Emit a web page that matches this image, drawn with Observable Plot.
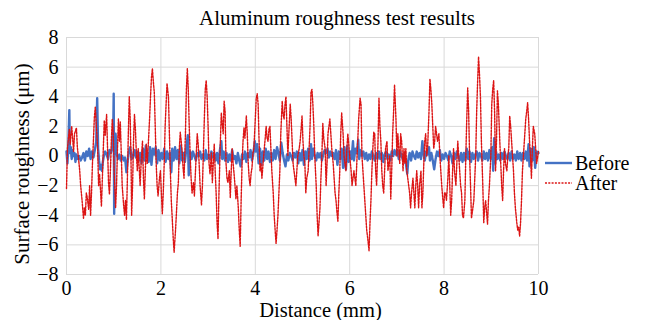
<!DOCTYPE html>
<html>
<head>
<meta charset="utf-8">
<script src="https://cdn.jsdelivr.net/npm/d3@7"></script>
<script src="https://cdn.jsdelivr.net/npm/@observablehq/plot@0.6"></script>
<style>
  html, body { margin: 0; padding: 0; background: #fff; }
  #wrap { position: relative; width: 645px; height: 320px; font-family: "Liberation Serif", "Times New Roman", serif; color: #000; }
  #title { position: absolute; top: 6px; left: 0; width: 674px; text-align: center; font-size: 21px; line-height: 24px; white-space: nowrap; }
  #legend { position: absolute; left: 545px; top: 153px; font-size: 20px; line-height: 20px; }
  .item { display: flex; align-items: center; height: 20px; overflow: visible; }
  .item svg { margin-right: 3px; }
</style>
</head>
<body>
<div id="wrap">
  <div id="chart"></div>
  <div id="title"></div>
  <div id="legend"></div>
</div>
<script>
const titleText = "Aluminum roughness test results";
const xLabel = "Distance (mm)";
const yLabel = "Surface roughness (μm)";
const seriesNames = ["Before", "After"];
const seriesColors = ["#4472C4", "#DC1414"];
const xTicks = [0, 2, 4, 6, 8, 10];
const yTicks = [-8, -6, -4, -2, 0, 2, 4, 6, 8];

const afterX = [0.00,0.02,0.06,0.08,0.11,0.13,0.15,0.17,0.21,0.23,0.25,0.28,0.30,0.33,0.36,0.38,0.40,0.42,0.44,0.47,0.49,0.51,0.53,0.55,0.57,0.59,0.61,0.63,0.66,0.68,0.70,0.72,0.74,0.76,0.78,0.80,0.82,0.85,0.87,0.89,0.91,0.93,0.95,0.97,0.99,1.01,1.04,1.06,1.08,1.10,1.12,1.14,1.16,1.18,1.21,1.23,1.25,1.27,1.29,1.31,1.33,1.35,1.37,1.38,1.40,1.42,1.44,1.46,1.48,1.50,1.52,1.54,1.56,1.58,1.61,1.63,1.65,1.67,1.69,1.71,1.73,1.76,1.78,1.80,1.82,1.84,1.86,1.88,1.90,1.92,1.94,1.97,1.99,2.01,2.03,2.05,2.07,2.09,2.11,2.13,2.16,2.18,2.20,2.22,2.24,2.26,2.28,2.31,2.33,2.35,2.37,2.39,2.41,2.43,2.45,2.47,2.49,2.52,2.54,2.56,2.58,2.60,2.62,2.64,2.66,2.69,2.71,2.73,2.75,2.77,2.79,2.81,2.83,2.86,2.88,2.90,2.92,2.94,2.96,2.98,3.00,3.02,3.04,3.07,3.09,3.11,3.13,3.15,3.17,3.19,3.21,3.23,3.26,3.28,3.30,3.32,3.34,3.36,3.38,3.40,3.42,3.45,3.47,3.49,3.51,3.53,3.55,3.57,3.59,3.61,3.64,3.66,3.68,3.70,3.72,3.74,3.76,3.78,3.81,3.83,3.85,3.87,3.89,3.91,3.93,3.95,3.97,4.00,4.02,4.04,4.06,4.08,4.10,4.12,4.14,4.17,4.19,4.21,4.23,4.25,4.27,4.29,4.31,4.33,4.35,4.38,4.40,4.42,4.44,4.46,4.48,4.50,4.52,4.54,4.57,4.59,4.61,4.63,4.65,4.67,4.69,4.71,4.74,4.76,4.78,4.80,4.82,4.84,4.86,4.88,4.90,4.93,4.95,4.97,4.99,5.01,5.03,5.05,5.07,5.09,5.12,5.14,5.16,5.18,5.20,5.22,5.24,5.26,5.29,5.31,5.33,5.35,5.37,5.39,5.41,5.43,5.45,5.48,5.50,5.52,5.54,5.56,5.58,5.60,5.62,5.65,5.67,5.69,5.71,5.73,5.75,5.77,5.79,5.81,5.83,5.86,5.88,5.90,5.92,5.94,5.96,5.98,6.00,6.03,6.05,6.07,6.09,6.11,6.13,6.15,6.17,6.19,6.22,6.24,6.26,6.28,6.30,6.32,6.34,6.36,6.38,6.41,6.43,6.45,6.47,6.49,6.51,6.53,6.55,6.57,6.60,6.62,6.64,6.66,6.68,6.70,6.72,6.74,6.76,6.79,6.81,6.83,6.85,6.87,6.89,6.91,6.93,6.95,6.98,7.00,7.02,7.04,7.06,7.08,7.10,7.13,7.15,7.17,7.19,7.21,7.23,7.25,7.27,7.29,7.31,7.34,7.36,7.38,7.40,7.42,7.44,7.46,7.48,7.51,7.53,7.55,7.57,7.59,7.61,7.63,7.65,7.68,7.70,7.72,7.74,7.76,7.78,7.80,7.82,7.84,7.86,7.89,7.91,7.93,7.95,7.97,7.99,8.01,8.03,8.05,8.08,8.10,8.12,8.14,8.16,8.18,8.20,8.22,8.25,8.27,8.29,8.31,8.33,8.35,8.37,8.39,8.41,8.44,8.46,8.48,8.50,8.52,8.54,8.56,8.58,8.61,8.63,8.65,8.67,8.69,8.71,8.73,8.75,8.77,8.79,8.82,8.84,8.86,8.88,8.90,8.92,8.94,8.96,8.99,9.01,9.03,9.05,9.07,9.09,9.11,9.13,9.15,9.18,9.20,9.22,9.24,9.26,9.28,9.30,9.33,9.35,9.37,9.39,9.41,9.43,9.45,9.47,9.49,9.51,9.54,9.56,9.58,9.60,9.62,9.64,9.66,9.68,9.71,9.73,9.75,9.77,9.79,9.81,9.83,9.85,9.87,9.89,9.92,9.94,9.96,10.00];
const afterY = [-2.2,0.5,1.8,0.8,2.0,1.2,0.3,1.5,1.9,0.6,0.0,-1.0,-2.0,-3.0,-4.2,-3.5,-4.0,-2.5,-2.8,-3.6,-2.0,-4.0,-2.5,-0.5,1.0,2.6,3.3,2.2,0.5,-2.0,-1.2,-2.3,-3.4,-1.5,0.5,2.4,1.4,2.8,0.5,-1.8,-2.6,-1.0,1.0,2.5,1.6,-1.0,-3.5,-2.0,0.5,2.5,1.0,2.3,0.2,-2.0,-3.3,-4.0,-3.0,-4.3,-1.5,1.5,4.0,2.5,-1.0,-4.0,-2.0,1.0,2.8,1.8,0.2,-1.0,0.5,-0.8,-2.0,-0.5,1.0,-1.5,-2.9,-1.0,0.8,-0.5,0.6,2.5,4.0,5.3,5.9,5.0,4.3,2.0,-0.5,-2.0,-2.7,-1.5,-1.0,-2.5,-3.9,-2.5,-0.5,2.0,3.5,4.9,4.0,1.5,-1.0,-3.0,-4.2,-5.5,-6.5,-5.0,-3.8,-2.5,-1.8,0.5,1.6,1.0,0.3,-0.8,-1.5,1.5,4.5,5.9,4.5,2.0,0.0,-1.5,-2.5,-1.8,-2.7,-1.2,0.2,1.5,0.8,-0.5,-2.0,-3.3,-2.0,0.2,2.5,4.5,5.1,4.0,2.0,-0.5,-1.2,0.2,-1.8,-0.5,0.8,-1.0,-2.5,-4.5,-5.6,-2.5,1.0,2.9,2.2,1.5,3.7,3.0,-0.5,-1.5,-1.8,-1.0,-2.8,-1.0,0.5,-0.5,-1.2,-2.0,-2.9,-2.0,-3.5,-5.0,-6.1,-3.0,-0.5,1.0,1.9,1.2,2.7,1.5,-0.5,-1.5,-2.0,-1.2,-0.8,0.2,0.5,2.5,3.9,4.2,3.5,1.0,-1.0,-0.5,-1.5,-0.3,0.5,1.2,2.0,1.2,1.0,1.8,2.0,0.5,-1.0,-2.5,-4.0,-5.0,-5.9,-5.0,-4.0,-2.5,-1.0,1.5,3.7,2.8,2.5,3.5,4.0,2.0,0.0,1.5,3.5,2.5,1.0,-0.5,-1.0,-1.5,-2.0,-1.0,0.0,0.5,1.0,1.8,2.7,1.0,0.0,-0.5,-2.5,-1.5,-1.0,0.5,2.0,4.3,4.5,3.5,2.0,0.0,-2.0,-4.0,-5.4,-4.5,-3.5,-1.5,0.0,2.2,1.2,0.5,-2.0,-0.5,1.5,2.0,2.5,1.5,0.5,-0.5,-1.5,-2.5,-3.0,-3.8,-4.4,-2.5,-1.0,1.5,2.9,1.5,0.0,-0.5,-1.0,0.5,1.5,0.8,0.0,-1.0,-2.0,-1.5,-1.0,-1.5,-2.0,-0.5,1.0,2.5,3.9,3.5,0.0,-1.0,-2.0,-3.0,-4.0,-5.0,-5.5,-6.4,-4.5,-3.0,-1.0,0.5,1.6,1.5,-1.0,-2.0,1.0,3.9,2.0,1.0,-1.0,-2.0,-2.5,-1.0,0.5,1.0,-1.0,-0.5,0.0,-2.9,-1.0,1.5,3.0,4.8,2.5,0.0,1.5,0.5,-0.5,1.5,1.0,-1.0,0.5,-0.5,0.5,-1.0,-1.5,-2.0,-2.5,-3.5,-2.5,-1.5,-2.5,-3.5,-2.0,-1.0,-2.0,-3.5,-2.0,-1.0,-3.5,-2.5,-0.5,1.0,1.5,0.0,0.5,3.0,5.2,4.5,3.5,2.0,0.5,1.0,2.0,1.5,1.0,1.5,0.0,-1.0,-2.0,-2.8,-3.5,-2.5,-2.5,-3.0,-1.5,0.0,-2.0,-4.0,-3.0,-1.0,0.5,-1.0,-2.0,-0.5,1.0,0.0,-1.0,-2.0,-2.5,-4.0,-4.2,-3.0,0.0,2.5,4.6,3.0,0.0,-2.0,-4.2,-3.5,-3.0,-1.5,0.0,3.0,5.0,6.7,5.5,4.0,1.0,-2.0,-4.5,-3.5,-3.0,-3.8,-4.6,-3.0,-2.0,0.0,3.5,4.5,5.1,3.0,-1.0,1.0,4.4,3.5,1.0,-0.5,-2.0,-3.0,-1.0,0.5,-0.5,-1.0,0.0,0.5,2.7,2.0,1.0,0.0,-1.0,-2.5,-3.5,-4.5,-5.0,-4.8,-5.4,-4.5,-3.0,-1.0,0.0,1.5,2.5,3.0,3.6,2.5,1.0,0.0,-1.5,0.5,2.0,1.5,0.5,-0.5,0.3];

const beforeX = [0.00,0.02,0.04,0.06,0.07,0.09,0.11,0.13,0.15,0.17,0.19,0.21,0.24,0.27,0.30,0.33,0.36,0.39,0.42,0.45,0.48,0.51,0.54,0.57,0.60,0.63,0.65,0.67,0.69,0.71,0.73,0.75,0.77,0.79,0.82,0.85,0.88,0.91,0.94,0.97,0.99,1.00,1.01,1.02,1.04,1.06,1.09,1.12,1.15,1.18,1.21,1.24,1.27,1.29,1.32,1.35,1.38,1.41,1.44,1.47,1.50,1.53,1.56,1.59,1.62,1.65,1.68,1.71,1.74,1.77,1.80,1.83,1.86,1.89,1.92,1.95,1.98,2.01,2.04,2.07,2.10,2.13,2.16,2.19,2.22,2.24,2.27,2.30,2.33,2.36,2.39,2.42,2.45,2.48,2.51,2.54,2.57,2.59,2.62,2.65,2.68,2.71,2.74,2.77,2.80,2.83,2.86,2.89,2.92,2.95,2.98,3.01,3.04,3.07,3.10,3.13,3.16,3.19,3.22,3.25,3.28,3.30,3.33,3.36,3.39,3.42,3.45,3.48,3.51,3.54,3.57,3.60,3.63,3.66,3.69,3.72,3.75,3.78,3.81,3.84,3.87,3.90,3.93,3.96,3.99,4.01,4.04,4.07,4.10,4.13,4.16,4.19,4.22,4.25,4.28,4.31,4.34,4.37,4.40,4.43,4.46,4.49,4.52,4.55,4.58,4.61,4.64,4.67,4.70,4.73,4.76,4.79,4.82,4.85,4.88,4.91,4.94,4.97,5.00,5.03,5.06,5.09,5.12,5.15,5.18,5.20,5.23,5.26,5.29,5.32,5.35,5.38,5.41,5.44,5.47,5.50,5.53,5.56,5.59,5.62,5.65,5.68,5.71,5.74,5.77,5.80,5.83,5.86,5.89,5.92,5.95,5.98,6.01,6.04,6.07,6.09,6.12,6.15,6.18,6.20,6.23,6.26,6.29,6.32,6.35,6.38,6.41,6.44,6.47,6.50,6.53,6.56,6.59,6.62,6.65,6.68,6.71,6.74,6.77,6.80,6.83,6.86,6.89,6.92,6.95,6.98,7.01,7.04,7.07,7.10,7.13,7.16,7.19,7.22,7.24,7.27,7.30,7.33,7.36,7.39,7.42,7.45,7.48,7.51,7.54,7.56,7.59,7.62,7.65,7.68,7.70,7.73,7.76,7.79,7.82,7.85,7.88,7.91,7.94,7.97,8.00,8.03,8.06,8.09,8.12,8.15,8.18,8.21,8.24,8.27,8.30,8.33,8.36,8.39,8.42,8.45,8.48,8.51,8.54,8.57,8.60,8.63,8.66,8.69,8.72,8.75,8.78,8.81,8.84,8.87,8.90,8.93,8.96,8.99,9.02,9.04,9.06,9.08,9.10,9.13,9.16,9.19,9.22,9.25,9.28,9.31,9.34,9.37,9.40,9.43,9.46,9.49,9.52,9.55,9.58,9.61,9.64,9.67,9.70,9.73,9.76,9.79,9.81,9.84,9.87,9.90,9.93,9.96,10.00];
const beforeY = [0.3,-0.5,0.8,3.1,0.2,0.6,-0.2,0.4,0.0,0.2,-0.4,0.1,-0.2,0.0,-0.3,-0.1,0.2,-0.3,0.3,0.0,0.5,-0.2,0.3,-0.1,0.4,1.0,3.9,0.5,-0.3,-0.9,-0.6,-1.0,-0.4,0.0,0.3,0.1,-0.2,0.4,0.2,0.6,1.5,4.2,-3.9,1.0,1.5,0.2,-0.2,0.1,-0.3,0.0,-0.3,-0.1,-1.1,-0.5,0.3,0.6,-0.2,0.0,0.4,-0.1,0.3,-0.3,0.2,-0.5,0.5,-0.3,0.7,0.2,-0.4,0.6,-0.6,0.5,0.1,0.6,-0.5,0.4,-0.3,0.2,-0.2,0.5,-0.4,0.3,-0.2,0.2,-1.1,0.5,-0.3,0.6,-0.2,0.4,-0.5,0.7,-0.3,0.2,-0.4,0.6,1.4,-1.3,0.3,-0.2,0.3,0.0,-0.3,0.2,0.0,0.3,-0.2,0.1,-0.3,0.4,-0.2,0.1,-0.2,0.3,-0.1,0.2,-0.3,0.2,-0.5,0.4,1.0,-0.2,0.3,-0.3,0.2,-0.4,0.1,-0.3,0.4,-0.2,0.0,-0.5,0.2,-0.3,-0.7,0.1,-0.2,0.3,-0.4,0.2,-0.1,0.4,-0.3,0.2,1.0,0.3,0.8,-0.5,0.5,-0.6,0.3,-0.3,0.5,-0.2,0.3,-0.4,0.2,-0.3,0.4,-0.2,0.6,0.2,-0.3,0.9,0.2,-0.3,-0.7,0.1,-0.3,0.2,0.0,-0.3,0.2,-0.1,0.3,-0.5,0.2,-0.3,0.4,-0.6,0.3,-0.2,0.5,-0.3,0.8,-0.2,0.5,0.0,-0.3,0.2,-0.1,0.2,-0.3,0.1,0.4,0.2,0.5,-0.1,0.3,0.0,0.2,-0.2,0.4,-0.6,0.3,-0.2,0.5,-0.8,0.6,-0.9,0.7,-0.4,0.3,-0.2,1.0,-0.3,0.5,0.2,1.1,-0.2,0.4,0.0,0.3,-0.2,0.2,-0.3,0.1,-0.2,0.3,0.0,-0.3,0.2,-0.2,0.3,-0.2,0.2,-0.4,0.1,0.3,-0.2,0.1,-0.3,0.3,0.0,0.4,0.1,0.4,-0.2,0.3,0.0,-0.3,0.2,-0.5,-1.2,-0.3,0.2,-0.3,0.3,0.0,-0.2,0.3,-0.1,0.2,-0.2,1.0,0.2,-0.3,0.3,0.1,0.6,-0.3,0.2,-0.3,-0.9,-0.2,0.3,0.0,0.4,-0.3,0.1,-0.2,0.2,0.0,-0.3,0.3,0.0,-0.5,0.2,-0.2,0.3,0.0,-0.3,0.2,-0.4,0.2,-0.3,0.5,-0.2,0.3,-0.4,0.2,-0.2,0.1,0.3,-0.3,0.2,0.0,-0.3,0.3,-0.2,0.2,-0.3,0.4,-0.2,0.6,-1.0,1.2,-0.5,0.3,-0.2,0.1,-0.3,0.2,-0.2,0.3,0.0,-0.2,0.2,-0.3,0.3,-0.2,0.1,-0.3,0.3,-0.2,0.2,-0.3,0.2,-0.2,0.3,-0.3,0.8,-0.7,0.5,-0.3,0.6,-0.8,0.3,0.2];

const before = beforeX.map((x, i) => ({x, y: beforeY[i]}));
const after = afterX.map((x, i) => ({x, y: afterY[i]}));

const font = '"Liberation Serif", "Times New Roman", serif';
const chart = Plot.plot({
  width: 645,
  height: 320,
  marginLeft: 66,
  marginRight: 107,
  marginTop: 37,
  marginBottom: 46,
  style: { fontFamily: font, fontSize: "20px", color: "#000", background: "#fff", overflow: "visible" },
  x: { domain: [0, 10] },
  y: { domain: [-8, 8] },
  marks: [
    Plot.gridX(xTicks, { stroke: "#d9d9d9", strokeOpacity: 1, strokeWidth: 1 }),
    Plot.gridY(yTicks, { stroke: "#d9d9d9", strokeOpacity: 1, strokeWidth: 1 }),
    Plot.line(before, { x: "x", y: "y", stroke: seriesColors[0], strokeWidth: 2.4 }),
    Plot.line(after, { x: "x", y: "y", stroke: seriesColors[1], strokeWidth: 1.4, strokeDasharray: "2,1.3" }),
    Plot.axisX(xTicks, { tickSize: 0, tickPadding: 6, label: null }),
    Plot.axisY(yTicks, { tickSize: 0, tickPadding: 8, label: null }),
    Plot.text([xLabel], { frameAnchor: "bottom", lineAnchor: "bottom", dx: 18, dy: 42, fontSize: 20.5 }),
    Plot.text([yLabel], { frameAnchor: "left", textAnchor: "middle", lineAnchor: "top", rotate: -90, dx: -52, dy: 8, fontSize: 21 })
  ]
});
document.getElementById("chart").appendChild(chart);
document.getElementById("title").textContent = titleText;

const legend = document.getElementById("legend");
seriesNames.forEach((name, i) => {
  const item = document.createElement("div");
  item.className = "item";
  const dash = i === 1 ? ' stroke-dasharray="2,1.3"' : '';
  const w = i === 1 ? 1.4 : 2.4;
  item.innerHTML = `<svg width="27" height="6"><line x1="0" x2="27" y1="3" y2="3" stroke="${seriesColors[i]}" stroke-width="${w}"${dash}/></svg><span>${name}</span>`;
  legend.appendChild(item);
});
</script>
</body>
</html>
